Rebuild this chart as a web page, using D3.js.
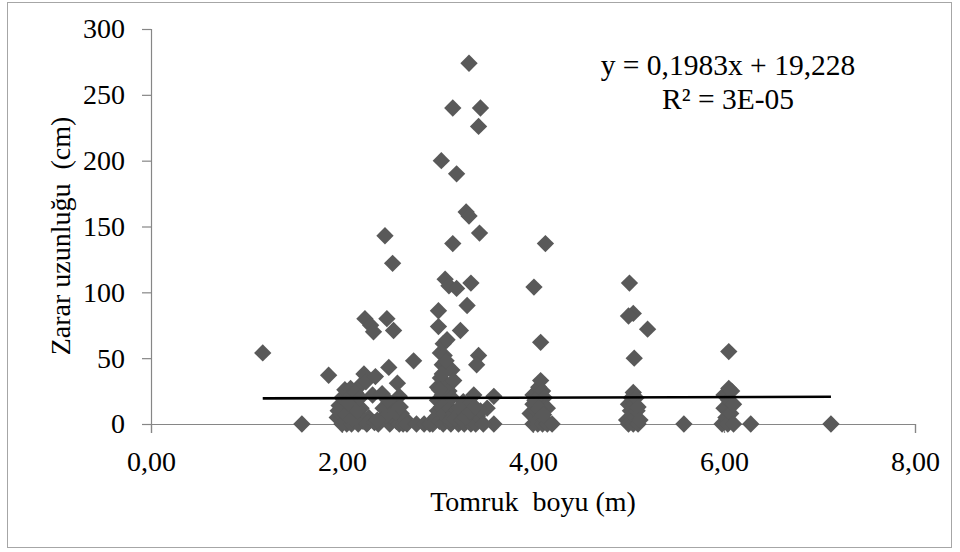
<!DOCTYPE html>
<html>
<head>
<meta charset="utf-8">
<script src="https://cdn.jsdelivr.net/npm/d3@7"></script>
<style>
  html, body { margin: 0; padding: 0; background: #fff; }
  svg { display: block; }
  text { font-family: "Liberation Serif", "Times New Roman", serif; fill: #000; }
</style>
</head>
<body>
<svg id="chart" width="960" height="552"></svg>
<script>
// ---- data ----
const xValues = [
  1.17, 1.58, 1.86,
  1.95, 1.97, 2.00, 2.00, 2.00, 2.02, 2.03, 2.05, 2.05, 2.07, 2.08, 2.09, 2.10, 2.10, 2.12, 2.13, 2.15, 2.15, 2.17, 2.18, 2.20, 2.20, 2.22,
  2.23, 2.25, 2.26, 2.24, 2.30, 2.33, 2.28, 2.32, 2.35, 2.38, 2.40, 2.42, 2.45, 2.47, 2.49, 2.50, 2.50, 2.52, 2.53, 2.54, 2.55, 2.57,
  2.58, 2.60, 2.60, 2.62, 2.64, 2.66, 2.68, 2.75, 2.78, 2.86, 2.92,
  1.96, 2.04, 2.11, 2.16, 2.27, 2.34, 2.43, 2.46, 2.56, 2.61, 2.06, 2.14, 2.19, 2.37, 2.48,
  2.95, 2.98, 3.00, 3.00, 3.00, 3.01, 3.01, 3.02, 3.03, 3.03, 3.04, 3.04, 3.05, 3.05, 3.06, 3.06, 3.07, 3.07, 3.08, 3.08, 3.09, 3.10,
  3.10, 3.11, 3.12, 3.12, 3.13, 3.14, 3.15, 3.15, 3.16, 3.17,
  3.16, 3.20, 3.33, 3.45, 3.43, 3.30, 3.33, 3.44, 3.16, 3.20, 3.35, 3.31, 3.24, 3.43, 3.41, 3.38, 3.52, 3.59, 3.59,
  3.20, 3.22, 3.25, 3.27, 3.28, 3.30, 3.32, 3.35, 3.37, 3.40, 3.42, 3.45, 3.48,
  3.02, 3.05, 3.09, 3.13, 3.18, 3.23, 3.26, 3.29, 3.34, 3.39,
  4.13, 4.01, 4.08, 3.97, 4.00, 4.00, 4.00, 4.02, 4.03, 4.05, 4.05, 4.06, 4.08, 4.08, 4.08, 4.10, 4.10, 4.10, 4.12, 4.13, 4.15, 4.15, 4.20,
  4.02, 4.06, 4.11,
  5.01, 5.05, 5.00, 5.20, 5.06, 4.98, 5.00, 5.00, 5.02, 5.03, 5.05, 5.05, 5.06, 5.07, 5.08, 5.09, 5.10, 5.10, 5.12,
  5.58, 6.05, 5.98, 6.00, 6.00, 6.02, 6.04, 6.05, 6.05, 6.07, 6.08, 6.10, 6.10, 6.28, 7.12
];
const yValues = [
  54, 0, 37,
  5, 14, 0, 9, 20, 2, 26, 12, 0, 17, 5, 27, 0, 22, 9, 14, 3, 18, 0, 7, 12, 30, 2,
  38, 32, 0, 80, 75, 70, 5, 22, 36, 0, 3, 23, 143, 80, 43, 0, 10, 4, 122, 71, 16, 2,
  31, 0, 21, 8, 0, 4, 0, 48, 0, 0, 0,
  10, 7, 4, 10, 1, 1, 12, 6, 9, 13, 16, 24, 20, 3, 18,
  0, 5, 10, 18, 28, 86, 74, 2, 54, 35, 200, 13, 45, 22, 0, 61, 52, 8, 110, 30, 16, 64,
  43, 4, 105, 25, 12, 0, 41, 20, 7, 33,
  240, 190, 274, 240, 226, 161, 158, 145, 137, 103, 107, 90, 71, 52, 45, 22, 12, 21, 0,
  10, 0, 5, 17, 0, 8, 14, 0, 4, 0, 6, 10, 0,
  26, 38, 48, 3, 4, 12, 3, 5, 9, 13,
  137, 104, 62, 8, 0, 15, 22, 5, 10, 0, 20, 28, 5, 15, 33, 0, 10, 25, 20, 3, 0, 12, 0,
  18, 12, 7,
  107, 84, 82, 72, 50, 3, 0, 15, 10, 20, 0, 24, 15, 5, 20, 10, 0, 13, 3,
  0, 55, 0, 12, 22, 5, 0, 18, 27, 8, 25, 0, 15, 0, 0
];
const xTicks = [0, 2, 4, 6, 8];
const yTicks = [0, 50, 100, 150, 200, 250, 300];
const trendSlope = 0.1983;
const trendIntercept = 19.228;
const equationLines = ["y = 0,1983x + 19,228", "R² = 3E-05"];
const xTitle = "Tomruk  boyu (m)";
const yTitle = "Zarar uzunluğu  (cm)";

// ---- drawing ----
const points = xValues.map((x, i) => ({ x, y: yValues[i] }));
const svg = d3.select("#chart");
const fmt = d => d3.format(".2f")(d).replace(".", ",");

const x = d3.scaleLinear().domain([0, 8]).range([151, 915]);
const y = d3.scaleLinear().domain([0, 300]).range([424, 29]);

// outer frame
svg.append("rect")
  .attr("x", 7.5).attr("y", 2.5).attr("width", 944).attr("height", 545)
  .attr("fill", "none").attr("stroke", "#a6a6a6").attr("stroke-width", 1);

const axisColor = "#868686";

// y axis
const yAxis = svg.append("g")
  .attr("transform", "translate(151,0)")
  .call(d3.axisLeft(y).tickValues(yTicks).tickSize(9).tickPadding(17).tickFormat(d3.format("d")));
// x axis
const xAxis = svg.append("g")
  .attr("transform", "translate(0,424)")
  .call(d3.axisBottom(x).tickValues(xTicks).tickSize(9).tickPadding(18).tickFormat(fmt));

[xAxis, yAxis].forEach(g => {
  g.select(".domain").attr("stroke", axisColor).attr("stroke-width", 1.2);
  g.selectAll(".tick line").attr("stroke", axisColor).attr("stroke-width", 1.2);
  g.selectAll(".tick text")
    .attr("fill", "#000")
    .style("font-family", '"Liberation Serif", serif')
    .style("font-size", "28px");
});

// points
const diamond = d3.symbol().type(d3.symbolSquare).size(150);
svg.append("g").selectAll("path")
  .data(points)
  .join("path")
  .attr("d", diamond)
  .attr("transform", d => `translate(${x(d.x)},${y(d.y)}) rotate(45)`)
  .attr("fill", "#595959");

// trend line across the data extent
const [xMin, xMax] = d3.extent(xValues);
svg.append("line")
  .attr("x1", x(xMin)).attr("y1", y(trendSlope * xMin + trendIntercept))
  .attr("x2", x(xMax)).attr("y2", y(trendSlope * xMax + trendIntercept))
  .attr("stroke", "#000").attr("stroke-width", 2.6);

// equation label
svg.append("g").selectAll("text")
  .data(equationLines)
  .join("text")
  .attr("x", 728)
  .attr("y", (d, i) => 75 + i * 34)
  .attr("text-anchor", "middle")
  .style("font-size", "29.5px")
  .text(d => d);

// axis titles
svg.append("text")
  .attr("x", 533).attr("y", 511)
  .attr("text-anchor", "middle")
  .style("font-size", "28px")
  .style("white-space", "pre")
  .attr("xml:space", "preserve")
  .text(xTitle);

svg.append("text")
  .attr("transform", "translate(70,236) rotate(-90)")
  .attr("text-anchor", "middle")
  .style("font-size", "28px")
  .style("white-space", "pre")
  .attr("xml:space", "preserve")
  .text(yTitle);
</script>
</body>
</html>
